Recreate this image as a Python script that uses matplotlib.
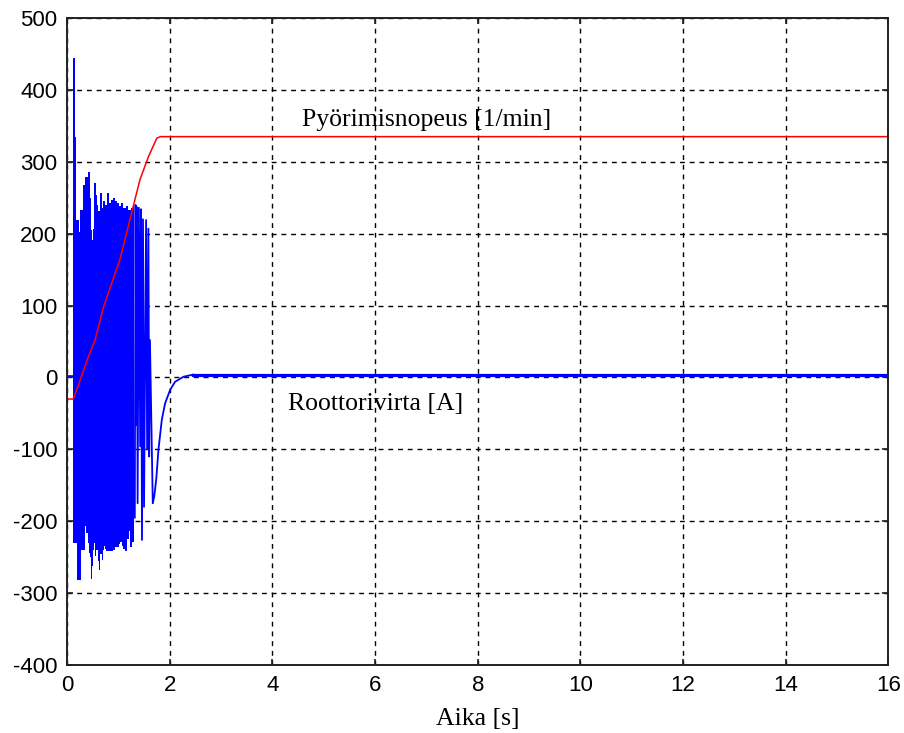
import matplotlib
matplotlib.use("Agg")
import matplotlib.pyplot as plt

plt.rcParams['axes.unicode_minus'] = False

# Pyorimisnopeus (speed) curve, red
speed_t = [0.0, 0.12, 0.19, 0.415, 0.546, 0.71, 1.03, 1.29, 1.42, 1.585, 1.75, 1.82, 16.0]
speed_v = [-30, -30, -17, 29, 52, 98, 164, 238, 275, 307, 333, 335, 335]

# Roottorivirta (rotor current), blue
# before the start-up burst
start_t = [0.0, 0.125]
start_v = [2, 2]

# upper envelope of the dense oscillation
upper_t = [0.125, 0.145, 0.165, 0.19, 0.215, 0.24, 0.265, 0.29, 0.315, 0.34, 0.365, 0.39,
           0.41, 0.43, 0.45, 0.47, 0.49, 0.51, 0.53, 0.55, 0.57, 0.59,
           0.61, 0.63, 0.65, 0.67, 0.69, 0.71, 0.73, 0.75, 0.77, 0.79,
           0.81, 0.83, 0.85, 0.87, 0.89, 0.91, 0.93, 0.95, 0.97, 0.99,
           1.01, 1.03, 1.05, 1.07, 1.09, 1.11, 1.13, 1.15, 1.17, 1.19,
           1.21, 1.23, 1.25, 1.27, 1.29, 1.31]
upper_v = [445, 445, 335, 219, 219, 203, 233, 233, 268, 268, 279, 279,
           286, 286, 250, 205, 191, 207, 270, 270, 254, 240,
           231, 231, 256, 256, 236, 245, 245, 240, 240, 256,
           256, 243, 243, 247, 247, 250, 250, 245, 245, 243,
           243, 238, 238, 243, 243, 236, 236, 238, 238, 233,
           233, 233, 236, 233, 240, 240]

# lower envelope of the dense oscillation
lower_t = [0.125, 0.15, 0.175, 0.195, 0.215, 0.235, 0.26, 0.285, 0.31, 0.335,
           0.357, 0.38, 0.40, 0.42, 0.435, 0.45, 0.468, 0.485, 0.50, 0.515,
           0.53, 0.55, 0.565, 0.58, 0.60, 0.615, 0.63, 0.645, 0.66, 0.68,
           0.695, 0.71, 0.727, 0.745, 0.76, 0.78, 0.80, 0.82, 0.84, 0.86,
           0.88, 0.90, 0.92, 0.95, 0.99, 1.02, 1.05, 1.085, 1.115, 1.15,
           1.18, 1.215, 1.25, 1.28, 1.31]
lower_v = [-230, -230, -230, -282, -282, -282, -282, -240, -240, -240,
           -207, -216, -216, -230, -244, -250, -302, -280, -262, -240,
           -230, -249, -249, -240, -240, -255, -268, -245, -236, -245,
           -254, -240, -234, -238, -242, -242, -242, -242, -242, -242,
           -242, -240, -240, -236, -236, -232, -229, -234, -238, -242,
           -225, -213, -236, -229, -195]

# last separate swings and the decay to zero
late_t = [1.32, 1.335, 1.35, 1.36, 1.375, 1.40, 1.425, 1.44, 1.46, 1.48, 1.50, 1.54, 1.56,
          1.585, 1.60, 1.615, 1.67, 1.70, 1.74, 1.78, 1.846, 1.91, 2.01, 2.105, 2.27, 2.46]
late_v = [-195, 240, -66, 237, -175, 236, -96, 234, -226, 220, -180, 219, -100,
          207, -110, 52, -175, -165, -140, -101, -59, -36, -17, -6, 1, 4]

steady_t = [2.46, 16.0]
steady_v = [3, 3]

xticks = [0, 2, 4, 6, 8, 10, 12, 14, 16]
yticks = [-400, -300, -200, -100, 0, 100, 200, 300, 400, 500]

fig = plt.figure(figsize=(9.045, 7.33), dpi=100)
ax = fig.add_axes([0.0741, 0.0928, 0.9082, 0.8826])

blue = (0, 0, 1)
red = (1, 0, 0)

ax.plot(start_t, start_v, color=blue, lw=1.2, zorder=3)
# the two halves overlap around zero so no seam shows
ax.fill_between(upper_t, -120, upper_v, step='mid', facecolor=blue, edgecolor='none', zorder=3)
ax.fill_between(lower_t, lower_v, 120, step='mid', facecolor=blue, edgecolor='none', zorder=3)
ax.plot(late_t, late_v, color=blue, lw=1.3, zorder=3)
ax.plot(steady_t, steady_v, color=blue, lw=2.3, zorder=3)
ax.plot(speed_t, speed_v, color=red, lw=1.1, zorder=4)

ax.set_xlim(0, 16)
ax.set_ylim(-400, 500)
ax.set_xticks(xticks)
ax.set_yticks(yticks)

ax.grid(True, color='black', linestyle=(0, (3.5, 3.5)), linewidth=1.0, zorder=1)
ax.set_axisbelow(True)
for s in ax.spines.values():
    s.set_linewidth(1.4)
    s.set_color('#222222')
    s.set_zorder(5)
ax.tick_params(direction='in', top=True, right=True, length=4.5, width=1.2,
               labelsize=16, pad=7, colors='#222222')
for lab in ax.get_xticklabels() + ax.get_yticklabels():
    lab.set_family('Liberation Sans')
    lab.set_color('black')

serif = 'Liberation Serif'
ax.text(7.0, 358, 'Pyörimisnopeus [1/min]', family=serif, fontsize=18.5,
        ha='center', va='center', zorder=6)
ax.text(6.0, -37, 'Roottorivirta [A]', family=serif, fontsize=18.5,
        ha='center', va='center', zorder=6)
ax.set_xlabel('Aika [s]', family=serif, fontsize=18.5, labelpad=9)

fig.savefig('out.png', dpi=100)
